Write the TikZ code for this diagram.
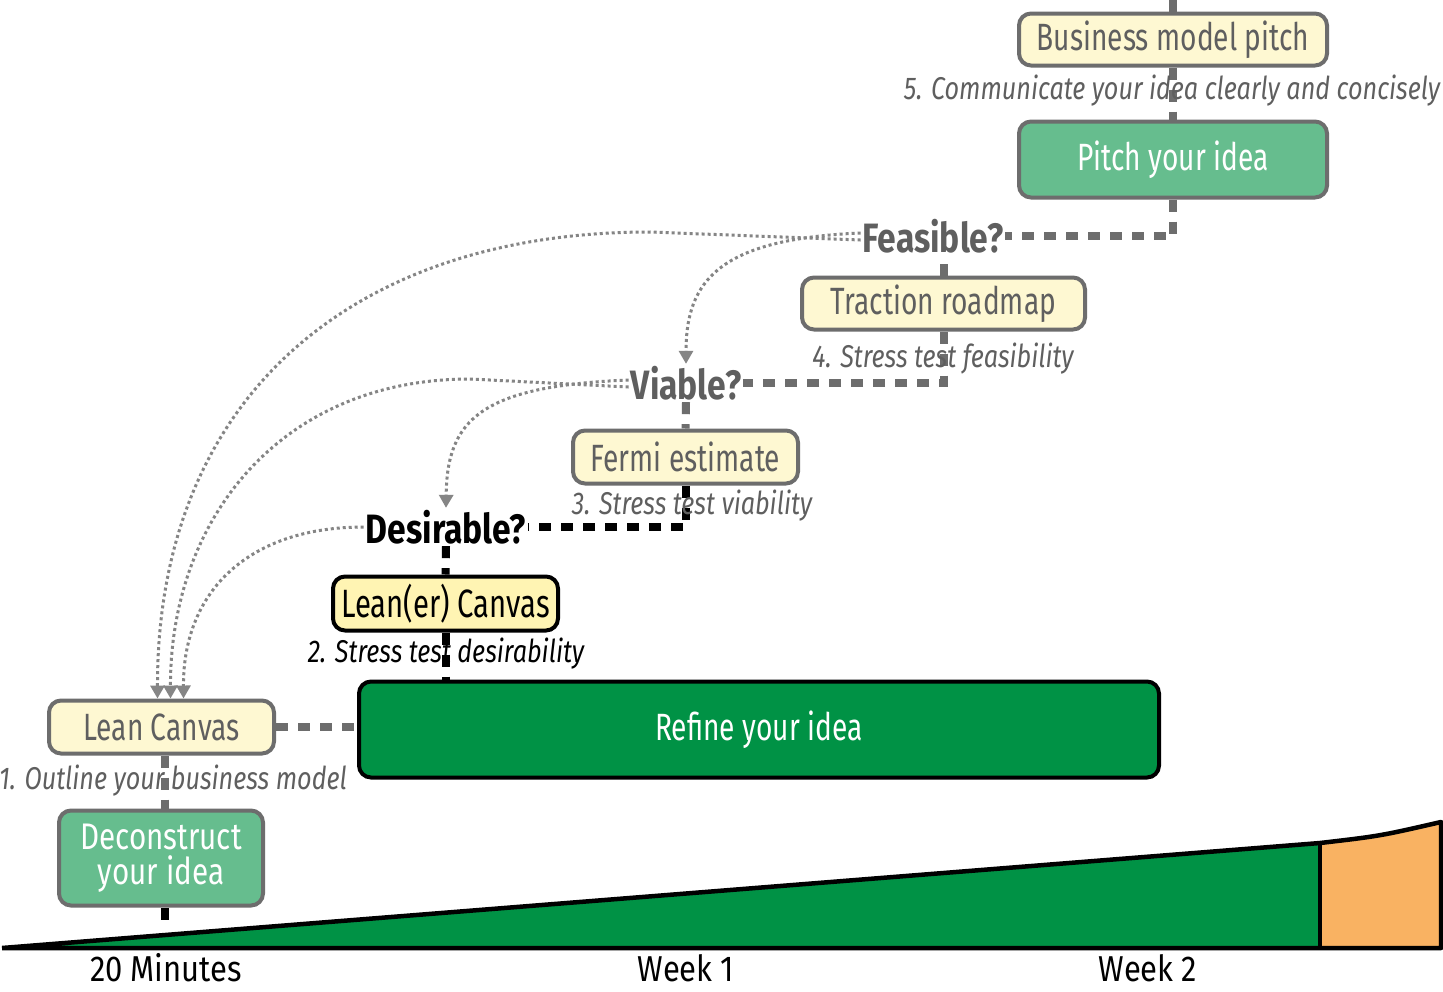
\documentclass[tikz,border=0pt]{standalone}
\usepackage{fontspec}
\setmainfont{Fira Sans}[FakeStretch=0.74]
\newfontfamily\widefont{Fira Sans}[FakeStretch=0.8]
\newfontfamily\axisfont{Fira Sans}[FakeStretch=0.86]
\newfontfamily\qfont{Fira Sans}[FakeStretch=0.82]
\usetikzlibrary{arrows.meta,backgrounds}

\definecolor{boxgray}{HTML}{6D6D6D}
\definecolor{txtgray}{HTML}{5F5F5F}
\definecolor{arrowgray}{HTML}{858585}
\definecolor{cream}{HTML}{FEF8D2}
\definecolor{creamdeep}{HTML}{FFF4B3}
\definecolor{midgreen}{HTML}{66BD8E}
\definecolor{darkgreen}{HTML}{009245}
\definecolor{orangefill}{HTML}{F9B262}

\newcommand{\fsBox}{\fontsize{38}{40}\selectfont}
\newcommand{\fsLbl}{\widefont\fontsize{31.5}{34}\selectfont}
\newcommand{\fsQ}{\qfont\fontsize{41}{44}\selectfont}
\newcommand{\fsAxis}{\axisfont\fontsize{36}{38}\selectfont}

\tikzset{
  stagebox/.style={draw=boxgray, line width=4pt, rounded corners=12pt,
    inner sep=0pt, align=center, font=\fsBox},
  ybox/.style={stagebox, fill=cream, text=txtgray},
  gbox/.style={stagebox, fill=midgreen, text=white},
  steplabel/.style={font=\fsLbl\itshape, text=txtgray, inner sep=0pt},
  question/.style={font=\fsQ\bfseries, text=txtgray, inner sep=2pt},
  axislabel/.style={font=\fsAxis, text=black, inner sep=0pt},
  link/.style={draw=boxgray, line width=8pt, dash pattern=on 12pt off 10pt},
  blacklink/.style={link, draw=black},
  backarrow/.style={draw=arrowgray, line width=3pt, dash pattern=on 3pt off 3pt,
    -{Triangle[length=13pt,width=14pt]}},
}

\begin{document}
\begin{tikzpicture}[x=1pt,y=-1pt]
  \useasboundingbox (0,0) rectangle (1443,991);

  % time wedge
  \fill[darkgreen] (2,948) -- (1320,843) -- (1320,948) -- cycle;
  \fill[orangefill] (1320,843) .. controls (1380,836) .. (1441,822) -- (1441,948) -- (1320,948) -- cycle;
  \draw[line width=4.5pt, line join=round] (2,948) -- (1320,843)
    .. controls (1380,836) .. (1441,822) -- (1441,948) -- (2,948);
  \draw[line width=4.5pt] (1320,843) -- (1320,948);

  % stage boxes
  \node[ybox, minimum width=308pt, minimum height=52pt] (bmp) at (1173,39.5) {Business model pitch};
  \node[gbox, minimum width=308pt, minimum height=76pt] (pitch) at (1173,159.5) {Pitch your idea};
  \node[ybox, minimum width=283pt, minimum height=52pt] (trac) at (943.5,303.5) {Traction roadmap};
  \node[ybox, minimum width=225pt, minimum height=53pt] (fermi) at (685.5,457) {Fermi estimate};
  \node[ybox, draw=black, fill=creamdeep, text=black, minimum width=225pt, minimum height=54pt,
    font=\fontsize{39.5}{40}\selectfont] (leaner) at (445.5,603.5) {Lean(er) Canvas};
  \node[stagebox, draw=black, fill=darkgreen, text=white, minimum width=800pt, minimum height=96pt] (refine) at (759,729.5) {Refine your idea};
  \node[ybox, minimum width=225pt, minimum height=53pt] (lean) at (161.5,727) {Lean Canvas};
  \node[gbox, minimum width=204pt, minimum height=95pt, font=\widefont\fontsize{37}{35}\selectfont] (decon) at (161,858) {Deconstruct\\your idea};

  % step labels and questions
  \node[steplabel] (lab5) at (1172,91) {5. Communicate your idea clearly and concisely};
  \node[question] (feas) at (933,236) {Feasible?};
  \node[steplabel] (lab4) at (943,359) {4. Stress test feasibility};
  \node[question] (viable) at (686,383) {Viable?};
  \node[steplabel] (lab3) at (692,506) {3. Stress test viability};
  \node[question, text=black] (desir) at (446,527) {Desirable?};
  \node[steplabel, text=black] (lab2) at (446,654) {2. Stress test desirability};
  \node[steplabel] (lab1) at (173,781) {1. Outline your business model};

  % time axis labels
  \node[axislabel] (t20) at (166,968) {20 Minutes};
  \node[axislabel] (wk1) at (686,968) {Week 1};
  \node[axislabel] (wk2) at (1148,968) {Week 2};

  \coordinate (topend) at (1173,0);
  \coordinate (wedgehit) at (165,929);

  \begin{scope}[on background layer]
    \fill[white] (0,0) rectangle (1443,991);
    % progression links
    \draw[link] (bmp.north) -- (topend);
    \draw[link] (bmp.south) -- (pitch.north);
    \draw[link] (pitch.south) |- (feas.east);
    \draw[link] (trac.north) -- (trac.north |- feas.south);
    \draw[link] (trac.south) |- (viable.east);
    \draw[link] (viable.south) -- (fermi.north);
    \draw[blacklink] (fermi.south) |- (desir.east);
    \draw[blacklink] (desir.south) -- (leaner.north);
    \draw[blacklink] (leaner.south) -- (leaner.south |- refine.north);
    \draw[link] (lean.east) -- (lean.east -| refine.west);
    \draw[link] ([xshift=3pt]lean.south) -- ([xshift=3pt]lean.south |- decon.north);
    \draw[blacklink] (decon.south -| wedgehit) -- (wedgehit);
  \end{scope}

  % loop-back arrows
  \draw[backarrow] ([yshift=-4pt]feas.west) -- (650,232)
    .. controls (350,232) and (157,400) .. ([xshift=-4pt]lean.north);
  \draw[backarrow] ([yshift=-4pt]viable.west) -- (470,379)
    .. controls (280,379) and (170,520) .. ([xshift=9pt]lean.north);
  \draw[backarrow] (desir.west) .. controls (250,527) and (183,590) .. ([xshift=22pt]lean.north);
  \draw[backarrow] ([yshift=3pt]feas.west) .. controls (720,239) and (686,280) .. (viable.north);
  \draw[backarrow] ([yshift=3pt]viable.west) .. controls (480,386) and (447,420) .. (desir.north);
\end{tikzpicture}
\end{document}
